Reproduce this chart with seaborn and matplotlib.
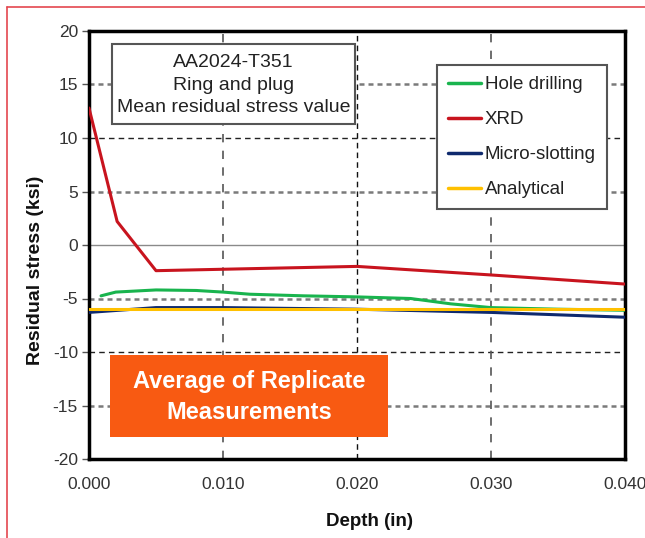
import matplotlib
matplotlib.use("Agg")
import matplotlib.pyplot as plt
from matplotlib.patches import Rectangle
from matplotlib.lines import Line2D
import pandas as pd
import seaborn as sns

# Residual stress (ksi) vs depth (in) for each measurement method
hole_depth = [0.0009, 0.0020, 0.0050, 0.0080, 0.0100, 0.0120, 0.0160, 0.0200, 0.0240, 0.0270, 0.0300, 0.0350, 0.0400]
hole_stress = [-4.75, -4.40, -4.20, -4.25, -4.40, -4.60, -4.75, -4.85, -5.00, -5.50, -5.85, -6.00, -6.10]

xrd_depth = [0.0000, 0.0021, 0.0050, 0.0200, 0.0300, 0.0400]
xrd_stress = [12.8, 2.2, -2.4, -2.0, -2.8, -3.65]

slot_depth = [0.0000, 0.0050, 0.0100, 0.0200, 0.0300, 0.0400]
slot_stress = [-6.30, -5.85, -5.85, -6.00, -6.30, -6.75]

anal_depth = [0.0000, 0.0400]
anal_stress = [-6.0, -6.0]

methods = ["Hole drilling", "XRD", "Micro-slotting", "Analytical"]
colors = ["#19B44E", "#C8141E", "#0F2A6E", "#FFC000"]

x_ticks = [0.000, 0.010, 0.020, 0.030, 0.040]
y_ticks = [-20, -15, -10, -5, 0, 5, 10, 15, 20]

df = pd.concat([
    pd.DataFrame({"Depth": hole_depth, "Stress": hole_stress, "Method": methods[0]}),
    pd.DataFrame({"Depth": xrd_depth, "Stress": xrd_stress, "Method": methods[1]}),
    pd.DataFrame({"Depth": slot_depth, "Stress": slot_stress, "Method": methods[2]}),
    pd.DataFrame({"Depth": anal_depth, "Stress": anal_stress, "Method": methods[3]}),
], ignore_index=True)

sns.set_style("white")
plt.rcParams["font.family"] = ["Liberation Sans", "DejaVu Sans"]

W, H = 645, 538
fig = plt.figure(figsize=(W / 100, H / 100), dpi=100)
ax = fig.add_axes([89 / W, 1 - 459 / H, (625 - 89) / W, (459 - 31) / H])


def ax_x(px):
    return (px - 89) / 536


def ax_y(py):
    return (459 - py) / 428


# grid lines
for yv in [15, 5, -5, -15]:
    ax.axhline(yv, color="#7a7a7a", lw=1.8, ls=(0, (2, 1.6)), zorder=1)
for yv in [10, -10]:
    ax.axhline(yv, color="#222222", lw=1.0, ls=(0, (4, 3)), zorder=1)
ax.axhline(0, color="#8a8a8a", lw=1.0, zorder=1)
for xv in [0.010, 0.030]:
    ax.axvline(xv, color="#555555", lw=1.2, ls=(0, (5, 5)), zorder=1)
ax.axvline(0.020, color="#111111", lw=1.0, ls=(0, (4, 3)), zorder=1)

sns.lineplot(data=df, x="Depth", y="Stress", hue="Method", hue_order=methods,
             palette=colors, sort=False, estimator=None, lw=2.2, ax=ax,
             legend=False, zorder=3)

ax.set_xlim(0, 0.040)
ax.set_ylim(-20, 20)
ax.set_xticks(x_ticks)
ax.set_xticklabels([f"{v:.3f}" for v in x_ticks], fontsize=12.5, color="#333333")
ax.set_yticks(y_ticks)
ax.set_yticklabels([str(v) for v in y_ticks], fontsize=12.5, color="#333333")
ax.tick_params(axis="x", length=0, pad=13)
ax.tick_params(axis="y", length=5, width=1, direction="out", color="#555555", pad=3, left=True)

for s in ax.spines.values():
    s.set_visible(True)
    s.set_color("#000000")
    s.set_linewidth(2.5)

ax.set_xlabel("Depth (in)", fontsize=13.5, fontweight="bold", color="#111111")
ax.set_ylabel("Residual stress (ksi)", fontsize=14, fontweight="bold", color="#111111")
ax.xaxis.set_label_coords(ax_x(370), ax_y(522))
ax.yaxis.set_label_coords(ax_x(35), ax_y(270))
ax.xaxis.label.set_va("center")
ax.yaxis.label.set_va("center")

# annotation box
bx0, bx1, by0, by1 = ax_x(112), ax_x(355), ax_y(124), ax_y(44)
ax.add_patch(Rectangle((bx0, by0), bx1 - bx0, by1 - by0, transform=ax.transAxes,
                       facecolor="white", edgecolor="#555555", lw=1.5, zorder=5))
ax.text((bx0 + bx1) / 2, ax_y(85), "AA2024-T351\nRing and plug\nMean residual stress value",
        transform=ax.transAxes, ha="center", va="center", fontsize=14,
        linespacing=1.45, color="#222222", zorder=6)

# legend
handles = [Line2D([0], [0], color=c, lw=2.5) for c in colors]
leg = ax.legend(handles, methods, loc="upper left",
                bbox_to_anchor=(ax_x(437), ax_y(65)),
                borderaxespad=0, fontsize=13.5, handlelength=1.75,
                handletextpad=0.2, labelspacing=0.95, borderpad=0.6,
                frameon=True, fancybox=False, framealpha=1)
leg.get_frame().set_edgecolor("#555555")
leg.get_frame().set_linewidth(1.5)
for t in leg.get_texts():
    t.set_color("#222222")
leg.set_zorder(6)

# orange banner
x0, x1 = ax_x(110), ax_x(388)
y0, y1 = ax_y(437), ax_y(355)
ax.add_patch(Rectangle((x0, y0), x1 - x0, y1 - y0, transform=ax.transAxes,
                       facecolor="#F85A12", edgecolor="none", zorder=6))
ax.text((x0 + x1) / 2, ax_y(397), "Average of Replicate\nMeasurements",
        transform=ax.transAxes, ha="center", va="center", fontsize=17,
        fontweight="bold", color="white", linespacing=1.4, zorder=7)

# thin red frame
fig.add_artist(Line2D([7 / W, 1], [1 - 7 / H, 1 - 7 / H], color="#E4474F", lw=1.2,
                      transform=fig.transFigure))
fig.add_artist(Line2D([7 / W, 7 / W], [0, 1 - 7 / H], color="#E4474F", lw=1.2,
                      transform=fig.transFigure))

fig.savefig("out.png", dpi=100)
